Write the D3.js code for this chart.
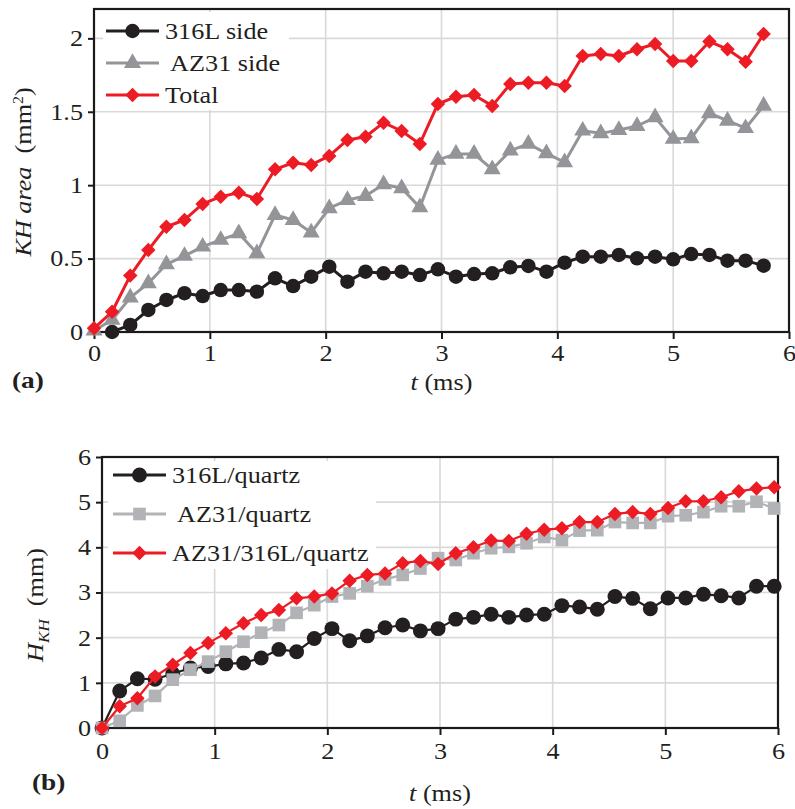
<!DOCTYPE html>
<html><head><meta charset="utf-8">
<script src="https://cdn.jsdelivr.net/npm/d3@7"></script>
<style>
html,body{margin:0;padding:0;background:#fff}svg{display:block}
text.sx{transform-box:fill-box;transform:scaleX(1.14)}
text.o-start{transform-origin:0% 50%}
text.o-mid{transform-origin:50% 50%}
text.o-end{transform-origin:100% 50%}
</style>
</head><body>
<svg id="chart" width="795" height="809"></svg>
<script>
// ---------- DATA (a) ----------
const timeA = [0, 0.156, 0.313, 0.469, 0.625, 0.781, 0.938, 1.094, 1.25, 1.406, 1.563, 1.719, 1.875, 2.031, 2.188, 2.344, 2.5, 2.656, 2.813, 2.969, 3.125, 3.281, 3.438, 3.594, 3.75, 3.906, 4.063, 4.219, 4.375, 4.531, 4.688, 4.844, 5.0, 5.156, 5.313, 5.469, 5.625, 5.781];
const side316L = [null, 0.0, 0.048, 0.150, 0.218, 0.264, 0.245, 0.286, 0.286, 0.275, 0.366, 0.313, 0.377, 0.445, 0.343, 0.411, 0.400, 0.411, 0.388, 0.427, 0.377, 0.395, 0.400, 0.441, 0.450, 0.411, 0.472, 0.513, 0.513, 0.525, 0.502, 0.513, 0.495, 0.531, 0.525, 0.486, 0.486, 0.452];
const sideAZ31 = [0.01, 0.082, 0.234, 0.332, 0.461, 0.518, 0.581, 0.627, 0.672, 0.536, 0.797, 0.763, 0.677, 0.843, 0.899, 0.926, 1.006, 0.979, 0.849, 1.172, 1.213, 1.213, 1.108, 1.235, 1.281, 1.217, 1.156, 1.371, 1.353, 1.376, 1.403, 1.462, 1.315, 1.319, 1.490, 1.439, 1.388, 1.540];
const totalA = [0.025, 0.138, 0.384, 0.559, 0.717, 0.763, 0.872, 0.922, 0.949, 0.906, 1.108, 1.153, 1.138, 1.199, 1.308, 1.330, 1.426, 1.369, 1.281, 1.553, 1.603, 1.614, 1.540, 1.689, 1.698, 1.698, 1.676, 1.880, 1.894, 1.880, 1.926, 1.962, 1.846, 1.846, 1.978, 1.926, 1.841, 2.030];
const legendA = ["316L side", " AZ31 side", "Total"];
const xTicksA = [0, 1, 2, 3, 4, 5, 6];
const yTicksA = [0, 0.5, 1, 1.5, 2];

// ---------- DATA (b) ----------
const timeB = [0, 0.157, 0.314, 0.471, 0.628, 0.785, 0.942, 1.099, 1.256, 1.413, 1.57, 1.727, 1.884, 2.041, 2.198, 2.355, 2.512, 2.669, 2.826, 2.983, 3.14, 3.297, 3.454, 3.611, 3.768, 3.925, 4.082, 4.239, 4.396, 4.553, 4.71, 4.867, 5.024, 5.181, 5.338, 5.495, 5.652, 5.809, 5.966];
const q316L = [0, 0.82, 1.09, 1.08, 1.2, 1.33, 1.36, 1.42, 1.44, 1.55, 1.74, 1.69, 1.98, 2.20, 1.93, 2.04, 2.22, 2.28, 2.15, 2.20, 2.41, 2.45, 2.52, 2.45, 2.50, 2.52, 2.71, 2.68, 2.63, 2.91, 2.87, 2.64, 2.88, 2.88, 2.96, 2.93, 2.88, 3.14, 3.14];
const qAZ31 = [0, 0.16, 0.50, 0.71, 1.07, 1.29, 1.47, 1.69, 1.91, 2.11, 2.28, 2.55, 2.72, 2.91, 2.98, 3.14, 3.29, 3.39, 3.53, 3.76, 3.72, 3.87, 3.98, 4.01, 4.09, 4.23, 4.16, 4.37, 4.38, 4.56, 4.54, 4.54, 4.69, 4.71, 4.78, 4.91, 4.91, 5.01, 4.86];
const qBoth = [0, 0.48, 0.66, 1.14, 1.40, 1.66, 1.88, 2.10, 2.32, 2.50, 2.61, 2.87, 2.91, 2.98, 3.26, 3.39, 3.42, 3.65, 3.70, 3.63, 3.87, 4.00, 4.15, 4.14, 4.30, 4.39, 4.42, 4.56, 4.56, 4.74, 4.78, 4.74, 4.87, 5.02, 5.02, 5.11, 5.24, 5.30, 5.33];
const legendB = ["316L/quartz", " AZ31/quartz", "AZ31/316L/quartz"];
const xTicksB = [0, 1, 2, 3, 4, 5, 6];
const yTicksB = [0, 1, 2, 3, 4, 5, 6];

const FONT = "'Liberation Serif', 'Times New Roman', serif";
const FS = 23;
const svg = d3.select("#chart");

function drawChart(cfg) {
  const g = svg.append("g");
  const x = d3.scaleLinear().domain([0, 6]).range([cfg.left, cfg.right]);
  const y = d3.scaleLinear().domain(cfg.yDomain).range([cfg.bottom, cfg.top]);

  // grid
  g.append("g").selectAll("line").data(cfg.xTicks.slice(1, -1)).join("line")
    .attr("x1", d => x(d)).attr("x2", d => x(d)).attr("y1", cfg.top).attr("y2", cfg.bottom)
    .attr("stroke", "#d9d9d9").attr("stroke-width", 1.6);
  g.append("g").selectAll("line").data(cfg.yTicks.filter(d => d > 0 && d < cfg.yDomain[1])).join("line")
    .attr("x1", cfg.left).attr("x2", cfg.right).attr("y1", d => y(d)).attr("y2", d => y(d))
    .attr("stroke", "#d9d9d9").attr("stroke-width", 1.6);

  // legend background
  g.append("rect").attr("x", cfg.legend.boxX).attr("y", cfg.legend.boxY)
    .attr("width", cfg.legend.boxW).attr("height", cfg.legend.boxH).attr("fill", "#fff");

  // axes
  const xAxis = d3.axisBottom(x).tickValues(cfg.xTicks).tickSize(7).tickPadding(cfg.xPad).tickFormat(d3.format("d"));
  const yAxis = d3.axisLeft(y).tickValues(cfg.yTicks).tickSize(6).tickPadding(5).tickFormat(d => String(d));
  const gx = g.append("g").attr("transform", `translate(0,${cfg.bottom})`).call(xAxis);
  const gy = g.append("g").attr("transform", `translate(${cfg.left},0)`).call(yAxis);
  [gx, gy].forEach(a => {
    a.select(".domain").remove();
    a.selectAll("line").attr("stroke", "#1a1a1a").attr("stroke-width", 2);
    a.selectAll("text").attr("font-family", FONT).attr("font-size", FS).attr("fill", "#231f20");
  });
  gx.selectAll("text").attr("class", "sx o-mid");
  gy.selectAll("text").attr("class", "sx o-end");

  // frame
  g.append("rect").attr("x", cfg.left).attr("y", cfg.top)
    .attr("width", cfg.right - cfg.left).attr("height", cfg.bottom - cfg.top)
    .attr("fill", "none").attr("stroke", "#1a1a1a").attr("stroke-width", 2.2);

  // series
  const line = d3.line().defined(d => d.v != null).x(d => x(d.t)).y(d => y(d.v));
  cfg.series.forEach(s => {
    const pts = cfg.time.map((t, i) => ({ t, v: s.values[i] }));
    g.append("path").datum(pts).attr("d", line).attr("fill", "none")
      .attr("stroke", s.color).attr("stroke-width", cfg.lineWidth).attr("stroke-linejoin", "round");
    g.append("g").selectAll("path").data(pts.filter(d => d.v != null)).join("path")
      .attr("d", d3.symbol(s.symbol, s.size)())
      .attr("transform", d => `translate(${x(d.t)},${y(d.v)})rotate(${s.rot || 0})`)
      .attr("fill", s.color);
  });

  // legend
  const L = cfg.legend;
  cfg.series.forEach((s, i) => {
    const cy = L.y0 + i * L.dy;
    g.append("line").attr("x1", L.x1).attr("x2", L.x2).attr("y1", cy).attr("y2", cy)
      .attr("stroke", s.color).attr("stroke-width", cfg.legendLineWidth);
    g.append("path").attr("d", d3.symbol(s.symbol, s.size)())
      .attr("transform", `translate(${(L.x1 + L.x2) / 2},${cy})rotate(${s.rot || 0})`).attr("fill", s.color);
    g.append("text").attr("class", "sx o-start").attr("x", L.tx).attr("y", cy + 8)
      .attr("font-family", FONT).attr("font-size", FS)
      .attr("fill", "#231f20").attr("xml:space", "preserve").style("white-space", "pre").text(s.name);
  });

  // x title
  const xt = g.append("text").attr("class", "sx o-mid").attr("x", (cfg.left + cfg.right) / 2).attr("y", cfg.xTitleY)
    .attr("text-anchor", "middle").attr("font-family", FONT).attr("font-size", FS).attr("fill", "#231f20");
  xt.append("tspan").attr("font-style", "italic").text("t");
  xt.append("tspan").text(" (ms)");

  // panel label
  g.append("text").attr("class", "sx o-start").attr("x", cfg.panelX).attr("y", cfg.panelY).attr("font-family", FONT)
    .attr("font-size", 24).attr("font-weight", "bold").attr("fill", "#231f20").text(cfg.panel);

  return g;
}

// ---------- chart (a) ----------
const gA = drawChart({
  left: 94, right: 789, top: 9, bottom: 332, yDomain: [0, 2.2],
  xTicks: xTicksA, yTicks: yTicksA, xPad: 6, time: timeA, lineWidth: 3, legendLineWidth: 3.2,
  series: [
    { name: legendA[0], values: side316L, color: "#231f20", symbol: d3.symbolCircle, size: 165 },
    { name: legendA[1], values: sideAZ31, color: "#939598", symbol: d3.symbolTriangle, size: 125 },
    { name: legendA[2], values: totalA, color: "#ed1c24", symbol: d3.symbolSquare, size: 105, rot: 45 }
  ],
  legend: { x1: 106, x2: 159, tx: 165, y0: 31, dy: 32, boxX: 103, boxY: 12, boxW: 186, boxH: 98 },
  xTitleY: 390, panel: "(a)", panelX: 12, panelY: 388
});
const yta = gA.append("g").attr("transform", "translate(31,172) rotate(-90)")
  .append("text").attr("class", "sx o-mid")
  .attr("text-anchor", "middle").attr("font-family", FONT).attr("font-size", FS).attr("fill", "#231f20")
  .attr("xml:space", "preserve").style("white-space", "pre");
yta.append("tspan").attr("font-style", "italic").text("KH area");
yta.append("tspan").text("  (mm");
yta.append("tspan").attr("font-size", 14).attr("dy", -8).text("2");
yta.append("tspan").attr("dy", 8).text(")");

// ---------- chart (b) ----------
const gB = drawChart({
  left: 102, right: 778, top: 457, bottom: 728, yDomain: [0, 6],
  xTicks: xTicksB, yTicks: yTicksB, xPad: 8, time: timeB, lineWidth: 2.2, legendLineWidth: 3,
  series: [
    { name: legendB[0], values: q316L, color: "#231f20", symbol: d3.symbolCircle, size: 175 },
    { name: legendB[1], values: qAZ31, color: "#b1b3b6", symbol: d3.symbolSquare, size: 160 },
    { name: legendB[2], values: qBoth, color: "#ed1c24", symbol: d3.symbolSquare, size: 105, rot: 45 }
  ],
  legend: { x1: 113, x2: 166, tx: 172, y0: 475, dy: 39, boxX: 108, boxY: 461, boxW: 268, boxH: 108 },
  xTitleY: 801, panel: "(b)", panelX: 32, panelY: 790
});
const ytb = gB.append("g").attr("transform", "translate(43,605) rotate(-90)")
  .append("text").attr("class", "sx o-mid")
  .attr("text-anchor", "middle").attr("font-family", FONT).attr("font-size", FS).attr("fill", "#231f20")
  .attr("xml:space", "preserve").style("white-space", "pre");
ytb.append("tspan").attr("font-style", "italic").text("H");
ytb.append("tspan").attr("font-style", "italic").attr("font-size", 15).attr("dy", 6).text("KH");
ytb.append("tspan").attr("dy", -6).text("  (mm)");
</script>
</body></html>
